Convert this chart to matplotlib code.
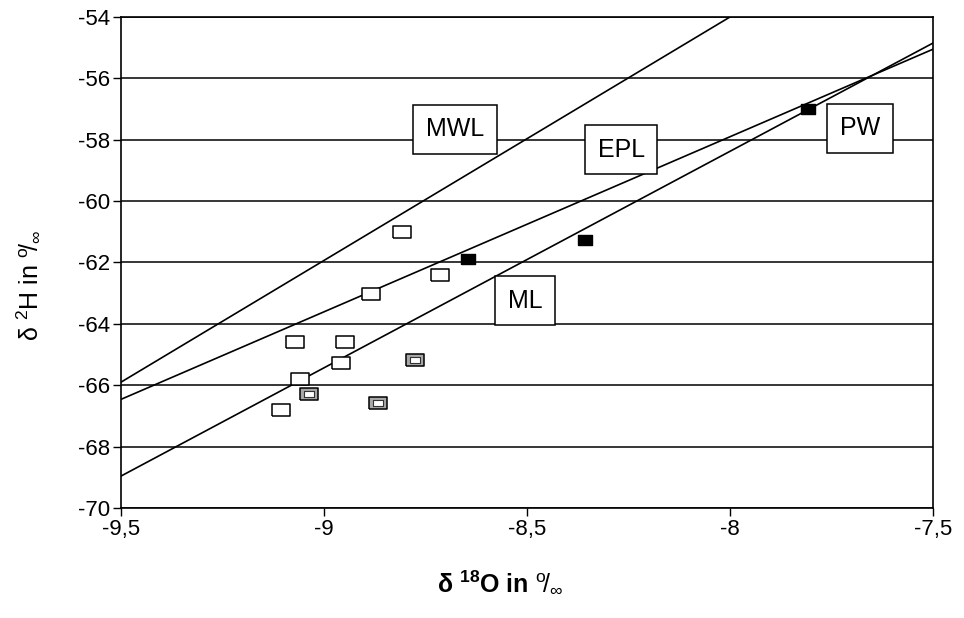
import matplotlib.pyplot as plt
import numpy as np

plt.rcParams["font.family"] = ["Liberation Sans", "DejaVu Sans"]
plt.rcParams["mathtext.fontset"] = "custom"
plt.rcParams["mathtext.rm"] = "Liberation Sans"
plt.rcParams["mathtext.it"] = "Liberation Sans"
plt.rcParams["mathtext.bf"] = "Liberation Sans:bold"

# samples (delta 18O, delta 2H)
open_x = [-8.808, -8.715, -8.884, -9.071, -8.948, -8.958, -9.058, -9.105]
open_y = [-61.0, -62.42, -63.04, -64.6, -64.6, -65.28, -65.8, -66.81]
hatched_x = [-8.776, -9.036, -8.867]
hatched_y = [-65.19, -66.29, -66.59]
filled_x = [-8.646, -8.356, -7.807]
filled_y = [-61.87, -61.28, -56.99]

# reference lines, end points
mwl_x = [-9.5, -8.0]
mwl_y = [-65.9, -54.0]
epl_x = [-9.5, -7.5]
epl_y = [-66.46, -55.05]
ml_x = [-9.5, -7.5]
ml_y = [-68.96, -54.85]

labels = ["MWL", "EPL", "PW", "ML"]
label_x = [-8.677, -8.268, -7.68, -8.505]
label_y = [-57.65, -58.33, -57.62, -63.25]

x_ticks = [-9.5, -9.0, -8.5, -8.0, -7.5]
x_ticklabels = ["-9,5", "-9", "-8,5", "-8", "-7,5"]
y_ticks = np.arange(-70, -53, 2)

rect = [(-1.45, -1), (1.45, -1), (1.45, 1), (-1.45, 1), (-1.45, -1)]

fig = plt.figure(figsize=(9.64, 6.18), dpi=100)
ax = fig.add_axes([0.1255, 0.178, 0.8423, 0.7945])

for y in y_ticks:
    ax.axhline(y, color="black", lw=1.1, zorder=1)

for lx, ly in [(mwl_x, mwl_y), (epl_x, epl_y), (ml_x, ml_y)]:
    ax.plot(lx, ly, color="black", lw=1.2, zorder=2)

ax.plot(open_x, open_y, linestyle="None", marker=rect, markersize=13,
        markerfacecolor="white", markeredgecolor="black", markeredgewidth=1.1, zorder=3)
ax.plot(hatched_x, hatched_y, linestyle="None", marker=rect, markersize=13,
        markerfacecolor="#a8a8a8", markeredgecolor="black", markeredgewidth=1.1, zorder=3)
ax.plot(hatched_x, hatched_y, linestyle="None", marker=rect, markersize=7,
        markerfacecolor="white", markeredgecolor="#333333", markeredgewidth=0.8, zorder=4)
ax.plot(filled_x, filled_y, linestyle="None", marker=rect, markersize=10.5,
        markerfacecolor="black", markeredgecolor="black", zorder=3)

for t, tx, ty in zip(labels, label_x, label_y):
    ax.text(tx, ty, t, fontsize=18, ha="center", va="center", zorder=5,
            bbox=dict(boxstyle="square,pad=0.5", facecolor="white",
                      edgecolor="black", linewidth=1.1))

ax.set_xlim(-9.5, -7.5)
ax.set_ylim(-70, -54)
ax.set_xticks(x_ticks)
ax.set_xticklabels(x_ticklabels)
ax.set_yticks(y_ticks)
ax.set_yticklabels([str(int(v)) for v in y_ticks])
ax.tick_params(axis="both", labelsize=16, length=6, width=1, color="black", pad=2)
for s in ax.spines.values():
    s.set_linewidth(1.2)

ax.set_xlabel(r"δ $^{\mathbf{18}}$O in $^{\mathrm{o}}\!/_{\infty}$", fontsize=18,
              fontweight="bold")
ax.set_ylabel(r"δ $^{2}$H in $^{\mathrm{o}}\!/_{\infty}$", fontsize=18)
ax.xaxis.set_label_coords(0.467, -0.125)
ax.yaxis.set_label_coords(-0.097, 0.454)

fig.savefig("out.png", dpi=100)
